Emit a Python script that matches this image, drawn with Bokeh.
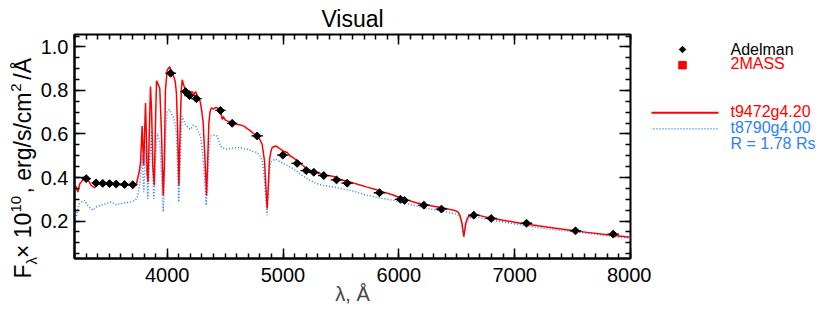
import math
from bokeh.plotting import figure
from bokeh.models import Range1d, LinearAxis, FixedTicker, PrintfTickFormatter, Label, Title, ColumnDataSource
from bokeh.layouts import row
from bokeh.embed import file_html
from bokeh.resources import INLINE

# ---------------- data ----------------
red_wl = [3200, 3215, 3229, 3245, 3258, 3286, 3300, 3315, 3344, 3373, 3401, 3430, 3460, 3490,
          3520, 3550, 3580, 3610, 3640, 3670, 3700, 3733, 3747, 3760, 3770, 3778, 3784, 3790,
          3798, 3806, 3813, 3820, 3827, 3835, 3843, 3856, 3866, 3876, 3889, 3898, 3908, 3920,
          3936, 3950, 3966, 3975, 3985, 4000, 4023, 4040, 4057, 4070, 4080, 4090, 4101, 4112,
          4122, 4130, 4145, 4158, 4175, 4190, 4200, 4216, 4230, 4245, 4260, 4275, 4288, 4300,
          4311, 4325, 4340, 4350, 4360, 4370, 4380, 4400, 4420, 4440, 4460, 4475, 4485, 4500,
          4518, 4540, 4561, 4580, 4604, 4630, 4662, 4690, 4719, 4750, 4777, 4800, 4820, 4840,
          4852, 4863, 4873, 4883, 4895, 4907, 4935, 4955, 4978, 5000, 5036, 5060, 5090, 5122,
          5160, 5209, 5250, 5295, 5340, 5380, 5439, 5500, 5583, 5650, 5727, 5800, 5870, 5950,
          6014, 6080, 6158, 6220, 6300, 6360, 6420, 6475, 6510, 6527, 6545, 6561, 6578, 6595,
          6633, 6700, 6763, 6900, 7050, 7200, 7338, 7500, 7626, 7800, 8000]
red_flux = [0.371, 0.355, 0.333, 0.370, 0.379, 0.400, 0.397, 0.390, 0.364, 0.353, 0.370, 0.372,
            0.368, 0.372, 0.366, 0.372, 0.368, 0.365, 0.370, 0.364, 0.368, 0.365, 0.400, 0.430,
            0.470, 0.560, 0.636, 0.550, 0.455, 0.620, 0.742, 0.600, 0.420, 0.379, 0.550, 0.818,
            0.700, 0.450, 0.364, 0.620, 0.845, 0.830, 0.810, 0.620, 0.318, 0.450, 0.800, 0.894,
            0.909, 0.880, 0.864, 0.840, 0.788, 0.620, 0.364, 0.620, 0.800, 0.849, 0.820, 0.803,
            0.790, 0.800, 0.785, 0.795, 0.780, 0.795, 0.775, 0.765, 0.742, 0.700, 0.651, 0.500,
            0.318, 0.480, 0.650, 0.700, 0.720, 0.715, 0.722, 0.718, 0.710, 0.667, 0.680, 0.665,
            0.660, 0.655, 0.651, 0.648, 0.644, 0.642, 0.636, 0.625, 0.614, 0.600, 0.591, 0.575,
            0.553, 0.477, 0.360, 0.258, 0.360, 0.477, 0.520, 0.538, 0.545, 0.540, 0.530, 0.522,
            0.515, 0.500, 0.490, 0.477, 0.460, 0.439, 0.430, 0.420, 0.415, 0.410, 0.405, 0.390,
            0.379, 0.368, 0.356, 0.345, 0.333, 0.320, 0.306, 0.295, 0.283, 0.276, 0.268, 0.262,
            0.256, 0.250, 0.242, 0.227, 0.190, 0.129, 0.190, 0.217, 0.233, 0.225, 0.217, 0.204,
            0.190, 0.178, 0.168, 0.157, 0.148, 0.137, 0.126]

blue_wl = [3200, 3215, 3230, 3243, 3265, 3286, 3310, 3335, 3358, 3390, 3430, 3470, 3517, 3560,
           3603, 3650, 3690, 3720, 3740, 3755, 3770, 3784, 3791, 3798, 3808, 3819, 3826, 3833,
           3845, 3865, 3875, 3885, 3895, 3914, 3937, 3952, 3966, 3978, 3988, 4000, 4020, 4040,
           4057, 4080, 4090, 4100, 4112, 4122, 4130, 4158, 4180, 4201, 4225, 4245, 4265, 4288,
           4305, 4320, 4337, 4352, 4362, 4374, 4400, 4432, 4460, 4480, 4518, 4560, 4604, 4650,
           4691, 4740, 4777, 4800, 4820, 4840, 4863, 4880, 4892, 4935, 4980, 5036, 5090, 5151,
           5220, 5295, 5360, 5439, 5510, 5583, 5650, 5727, 5800, 5870, 5950, 6014, 6090, 6158,
           6250, 6350, 6475, 6520, 6540, 6561, 6580, 6600, 6647, 6800, 7050, 7300, 7626, 7800,
           8000]
blue_flux = [0.242, 0.220, 0.260, 0.280, 0.290, 0.295, 0.275, 0.260, 0.250, 0.265, 0.273, 0.280,
             0.288, 0.275, 0.280, 0.285, 0.288, 0.295, 0.305, 0.349, 0.400, 0.500, 0.420, 0.333,
             0.450, 0.545, 0.420, 0.303, 0.450, 0.614, 0.450, 0.303, 0.450, 0.606, 0.560, 0.400,
             0.242, 0.400, 0.620, 0.705, 0.712, 0.690, 0.674, 0.606, 0.450, 0.288, 0.450, 0.620,
             0.682, 0.644, 0.630, 0.621, 0.640, 0.636, 0.615, 0.591, 0.520, 0.420, 0.273, 0.420,
             0.530, 0.591, 0.595, 0.591, 0.545, 0.535, 0.530, 0.535, 0.538, 0.535, 0.530, 0.520,
             0.515, 0.500, 0.477, 0.400, 0.227, 0.400, 0.470, 0.485, 0.470, 0.455, 0.440, 0.415,
             0.390, 0.371, 0.362, 0.356, 0.348, 0.341, 0.330, 0.318, 0.310, 0.303, 0.295, 0.288,
             0.278, 0.268, 0.258, 0.248, 0.235, 0.225, 0.205, 0.126, 0.190, 0.212, 0.222, 0.205,
             0.182, 0.163, 0.144, 0.133, 0.122]

adel_wl = [3301, 3387, 3444, 3502, 3560, 3632, 3703, 4030, 4158, 4193, 4253, 4460, 4561, 4777,
           4998, 5122, 5200, 5266, 5352, 5462, 5554, 5833, 6014, 6049, 6216, 6368, 6647, 6797,
           7102, 7525, 7851]
adel_flux = [0.395, 0.375, 0.373, 0.372, 0.370, 0.368, 0.367, 0.879, 0.795, 0.776, 0.762, 0.708,
             0.649, 0.591, 0.503, 0.465, 0.432, 0.424, 0.409, 0.389, 0.374, 0.330, 0.300, 0.295,
             0.273, 0.255, 0.227, 0.212, 0.190, 0.155, 0.140]
adel_halfwidth = [40, 40, 40, 40, 40, 40, 40, 45, 45, 45, 45, 45, 45, 50,
                  50, 50, 50, 50, 50, 50, 50, 50, 50, 50, 50, 50, 50, 50,
                  50, 50, 50]

x_major = [4000, 5000, 6000, 7000, 8000]
x_minor = list(range(3200, 8001, 100))
y_major = [0.2, 0.4, 0.6, 0.8, 1.0]
y_minor = [round(0.05 * i, 2) for i in range(1, 22)]

legend_labels = ["Adelman", "2MASS", "t9472g4.20", "t8790g4.00", "R = 1.78 Rs"]

FONT = "Liberation Sans"
RED = "#ff0000"
BLUE = "#2a7fff"
NB = "\u00a0"  # non-collapsing space for SVG text

MAIN_W = 651

# ---------------- main figure ----------------
p = figure(width=MAIN_W, height=316, x_range=Range1d(3200, 8000), y_range=Range1d(0.028, 1.057),
           toolbar_location=None, output_backend="svg", title="Visual",
           min_border_left=74, min_border_right=MAIN_W - 630, min_border_top=34, min_border_bottom=58)
p.grid.visible = False
p.outline_line_color = "black"
p.outline_line_width = 2
p.title.align = "center"
p.title.vertical_align = "middle"
p.title.text_font = FONT
p.title.text_font_size = "23px"
p.title.text_font_style = "normal"
p.title.text_color = "black"
p.title.standoff = 3


def style_axis(ax, ticker, major_len, minor_len):
    ax.ticker = ticker
    ax.major_tick_in = major_len
    ax.major_tick_out = 0
    ax.minor_tick_in = minor_len
    ax.minor_tick_out = 0
    ax.major_tick_line_width = 1.5
    ax.minor_tick_line_width = 1.5
    ax.major_tick_line_color = "black"
    ax.minor_tick_line_color = "black"
    ax.axis_line_width = 2
    ax.axis_line_color = "black"
    ax.major_label_text_font = FONT
    ax.major_label_text_font_size = "20px"
    ax.major_label_text_color = "black"


style_axis(p.xaxis[0], FixedTicker(ticks=x_major, minor_ticks=x_minor), 10, 5)
p.xaxis[0].major_label_standoff = 9
p.xaxis[0].axis_label = "λ, Å"
p.xaxis[0].axis_label_text_font = FONT
p.xaxis[0].axis_label_text_font_size = "20px"
p.xaxis[0].axis_label_text_font_style = "normal"
p.xaxis[0].axis_label_standoff = -2

style_axis(p.yaxis[0], FixedTicker(ticks=y_major, minor_ticks=y_minor), 11, 5)
p.yaxis[0].formatter = PrintfTickFormatter(format="%.1f")
p.yaxis[0].major_label_standoff = 6


def tick_only_axis(ticks, length):
    ax = LinearAxis(ticker=FixedTicker(ticks=[], minor_ticks=ticks))
    ax.minor_tick_in = length
    ax.minor_tick_out = 0
    ax.major_tick_in = 0
    ax.major_tick_out = 0
    ax.minor_tick_line_width = 1.5
    ax.minor_tick_line_color = "black"
    ax.axis_line_color = None
    ax.major_label_standoff = 0
    return ax


# top and right frame ticks (no labels)
p.add_layout(tick_only_axis(x_minor, 5), "above")
p.add_layout(tick_only_axis(x_major, 10), "above")
p.add_layout(tick_only_axis(y_minor, 5), "right")
p.add_layout(tick_only_axis(y_major, 11), "right")

# rotated y-axis label: main text plus subscript / superscripts as side titles
ylab_sub = Title(text="λ", align="left", offset=-6, standoff=-4.4,
                 text_font=FONT, text_font_size="15px", text_font_style="normal")
ylab_main = Title(text="F" + NB + "× 10" + NB * 3 + ", erg/s/cm" + NB * 2 + "/Å",
                  align="left", offset=-20, standoff=-26.6,
                  text_font=FONT, text_font_size="23px", text_font_style="normal")
ylab_sup = Title(text="10" + NB * 25 + "2", align="left", offset=45.9, standoff=-5.4,
                 text_font=FONT, text_font_size="15px", text_font_style="normal")
for t in (ylab_sub, ylab_main, ylab_sup):
    t.text_color = "black"
    p.add_layout(t, "left")

# spectra
p.line(blue_wl, blue_flux, line_color=BLUE, line_width=1.5, line_dash="1 2")
p.line(red_wl, red_flux, line_color=RED, line_width=1.5)

# Adelman points with bandwidth bars (diamonds = squares turned 45 degrees)
src = ColumnDataSource(dict(
    wl=adel_wl, flux=adel_flux,
    lo=[w - h for w, h in zip(adel_wl, adel_halfwidth)],
    hi=[w + h for w, h in zip(adel_wl, adel_halfwidth)],
))
p.segment(x0="lo", x1="hi", y0="flux", y1="flux", source=src, line_color="black", line_width=1.3)
p.scatter(x="wl", y="flux", source=src, marker="square", angle=math.pi / 4, size=5.6,
          fill_color="black", line_color="black")

# ---------------- legend panel (page-pixel coordinates) ----------------
leg = figure(width=820 - MAIN_W, height=316, x_range=Range1d(MAIN_W, 820), y_range=Range1d(258, 34),
             toolbar_location=None, output_backend="svg",
             x_axis_location=None, y_axis_location=None,
             min_border_left=0, min_border_right=0, min_border_top=34, min_border_bottom=58)
leg.grid.visible = False
leg.outline_line_color = None

leg.scatter([682], [49], marker="square", angle=math.pi / 4, size=4.6,
            fill_color="black", line_color="black")
leg.scatter([682], [64.7], marker="square", size=7.5, fill_color=RED, line_color=RED)
leg.line([647, 718], [112.3, 112.3], line_color=RED, line_width=2)
leg.line([647, 718], [128.3, 128.3], line_color=BLUE, line_width=1.5, line_dash="1 2")

for txt, yy, col in zip(legend_labels, [48.5, 63.2, 111, 126.7, 142.7],
                        ["black", RED, RED, BLUE, BLUE]):
    leg.add_layout(Label(x=730, y=yy, text=txt, text_font=FONT, text_font_size="16px",
                         text_align="left", text_baseline="middle", text_color=col))

layout = row(p, leg)
open("out.html", "w").write(file_html(layout, INLINE))
